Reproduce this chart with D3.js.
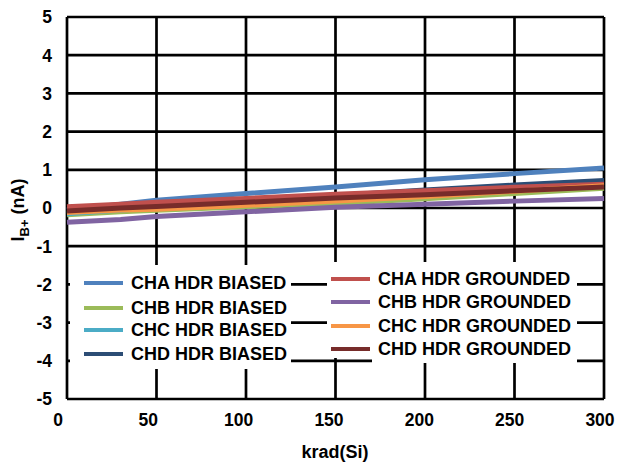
<!DOCTYPE html>
<html><head><meta charset="utf-8">
<script src="https://cdn.jsdelivr.net/npm/d3@7"></script>
<style>body{margin:0;background:#fff;} svg{display:block;font-family:"Liberation Sans",Arial,sans-serif;font-weight:bold;}</style>
</head><body><svg id="c" width="618" height="464"></svg>
<script>
const dose = [0, 30, 50, 100, 150, 200, 250, 300];
const chaBiased = [-0.05, 0.10, 0.20, 0.38, 0.55, 0.74, 0.90, 1.05];
const chbBiased = [-0.18, -0.10, -0.06, 0.03, 0.12, 0.24, 0.38, 0.52];
const chcBiased = [-0.15, -0.05, 0.00, 0.12, 0.25, 0.38, 0.52, 0.66];
const chdBiased = [-0.05, 0.05, 0.10, 0.22, 0.33, 0.47, 0.60, 0.72];
const chaGrounded = [0.03, 0.10, 0.15, 0.25, 0.36, 0.45, 0.54, 0.62];
const chbGrounded = [-0.37, -0.30, -0.22, -0.10, 0.02, 0.10, 0.18, 0.25];
const chcGrounded = [-0.12, -0.05, -0.03, 0.07, 0.18, 0.30, 0.44, 0.58];
const chdGrounded = [-0.08, 0.00, 0.04, 0.15, 0.26, 0.35, 0.45, 0.55];
const seriesNames = ["CHA HDR BIASED","CHB HDR BIASED","CHC HDR BIASED","CHD HDR BIASED",
  "CHA HDR GROUNDED","CHB HDR GROUNDED","CHC HDR GROUNDED","CHD HDR GROUNDED"];
const seriesValues = [chaBiased, chbBiased, chcBiased, chdBiased, chaGrounded, chbGrounded, chcGrounded, chdGrounded];
const colors = ["#4F81BD","#9BBB59","#4BACC6","#2C4D75","#C0504D","#8064A2","#F79646","#772C2A"];
const xTicks = [0, 50, 100, 150, 200, 250, 300];
const yTicks = [-5, -4, -3, -2, -1, 0, 1, 2, 3, 4, 5];

const svg = d3.select("#c");
const x = d3.scaleLinear().domain([0, 300]).range([67, 604]);
const xLab = d3.scaleLinear().domain([0, 300]).range([58, 600]);
const y = d3.scaleLinear().domain([-5, 5]).range([399, 17]);

// gridlines
svg.append("g").selectAll("line").data(yTicks).join("line")
  .attr("x1", 67).attr("x2", 604).attr("y1", d => y(d)).attr("y2", d => y(d))
  .attr("stroke", "#000").attr("stroke-width", 2.7);
svg.append("g").selectAll("line").data(xTicks).join("line")
  .attr("x1", d => x(d)).attr("x2", d => x(d)).attr("y1", 17).attr("y2", 399)
  .attr("stroke", "#000").attr("stroke-width", 2.7);

// tick labels
svg.append("g").selectAll("text").data(yTicks).join("text")
  .attr("x", 52).attr("y", d => y(d)).attr("dy", "0.36em").attr("text-anchor", "end")
  .attr("font-size", 17.5).text(d => d);
svg.append("g").selectAll("text").data(xTicks).join("text")
  .attr("x", d => xLab(d)).attr("y", 420).attr("dy", "0.36em").attr("text-anchor", "middle")
  .attr("font-size", 17.5).text(d => d);

// axis titles
svg.append("text").attr("x", 335).attr("y", 452).attr("dy", "0.36em").attr("text-anchor", "middle")
  .attr("font-size", 18).text("krad(Si)");
const yt = svg.append("text").attr("transform", "translate(24,210) rotate(-90)")
  .attr("text-anchor", "middle").attr("font-size", 18);
yt.append("tspan").text("I");
yt.append("tspan").attr("font-size", 13).attr("dy", 5).text("B+");
yt.append("tspan").attr("dy", -5).text(" (nA)");

// lines
const line = d3.line().x((d, i) => x(dose[i])).y(d => y(d));
svg.append("g").selectAll("path").data(seriesValues).join("path")
  .attr("d", d => line(d)).attr("fill", "none")
  .attr("stroke", (d, i) => colors[i]).attr("stroke-width", 5);

// legend boxes
svg.append("rect").attr("x", 70).attr("y", 265).attr("width", 221).attr("height", 104).attr("fill", "#fff");
svg.append("rect").attr("x", 327).attr("y", 262).attr("width", 250).attr("height", 96).attr("fill", "#fff");
svg.append("rect").attr("x", 372).attr("y", 356).attr("width", 205).attr("height", 7).attr("fill", "#fff");

const leftRows = [283, 308, 330, 354];
const rightRows = [279, 302, 326, 349];
const leg = svg.append("g");
seriesNames.forEach((n, i) => {
  const left = i < 4;
  const yy = left ? leftRows[i] : rightRows[i - 4];
  const x0 = left ? 84 : 331;
  const x1 = left ? 123 : 370;
  const tx = left ? 131 : 378;
  leg.append("line").attr("x1", x0).attr("x2", x1).attr("y1", yy).attr("y2", yy)
    .attr("stroke", colors[i]).attr("stroke-width", 4);
  leg.append("text").attr("x", tx).attr("y", yy).attr("dy", "0.36em")
    .attr("font-size", 18).text(n);
});
</script></body></html>
